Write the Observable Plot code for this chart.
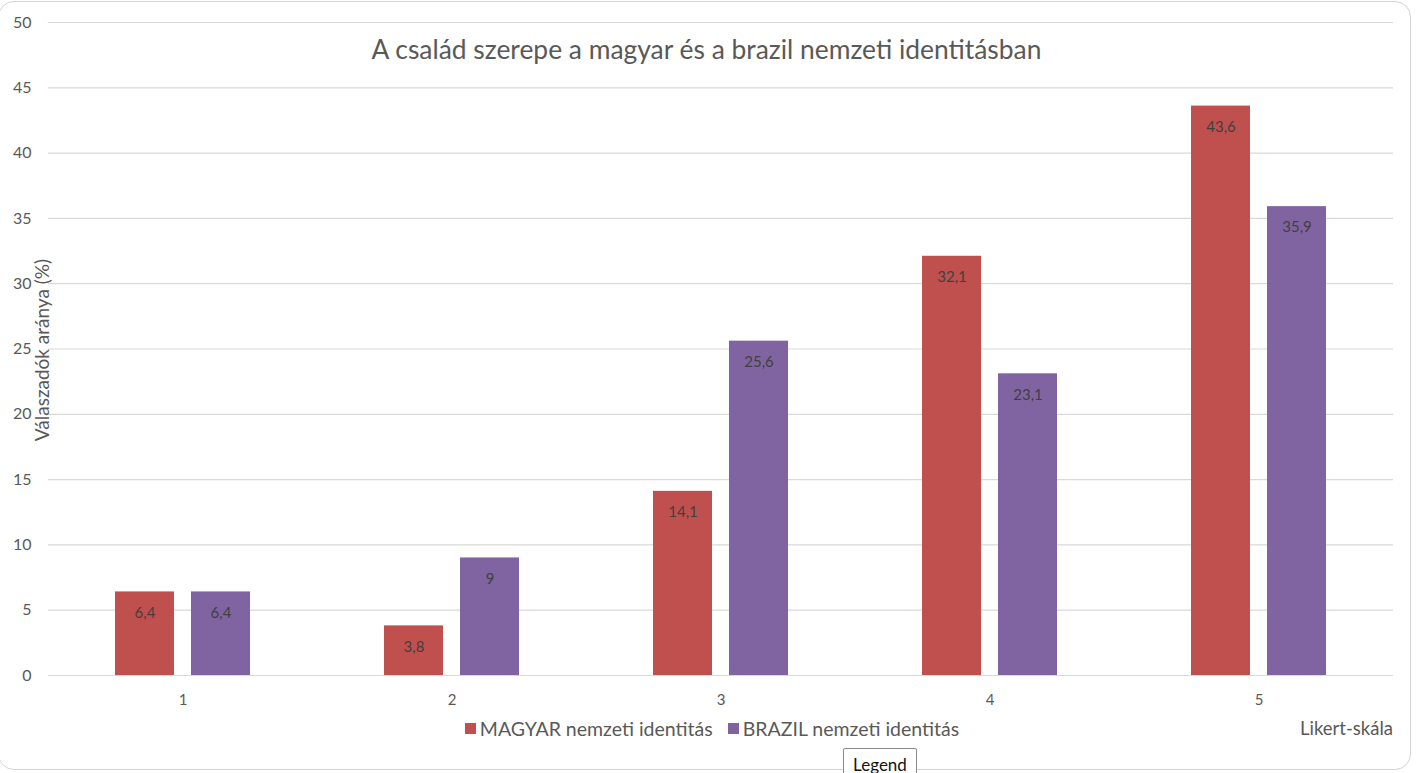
<!DOCTYPE html>
<html>
<head>
<meta charset="utf-8">
<script src="https://cdn.jsdelivr.net/npm/d3@7"></script>
<script src="https://cdn.jsdelivr.net/npm/@observablehq/plot@0.6"></script>
<style>
  html, body { margin: 0; padding: 0; background: #fff; }
  body { width: 1417px; height: 773px; overflow: hidden; font-family: Lato, "Open Sans", sans-serif; }
  #wrap { position: relative; width: 1417px; height: 773px; }
  #frame { position: absolute; left: -2px; top: 1px; width: 1411px; height: 767px; border: 1px solid #d4d4d4; border-radius: 16px; }
  #chart { position: absolute; left: 0; top: 0; }
  #title { position: absolute; top: 33px; left: 0; width: 1413px; text-align: center; font-size: 26.4px; color: #595959; }
  #ylabel { position: absolute; left: 41px; top: 350px; transform: translate(-50%, -50%) rotate(-90deg); white-space: nowrap; font-size: 19px; color: #595959; }
  #legend { position: absolute; top: 717px; left: 0; width: 1424px; display: flex; justify-content: center; gap: 15px; font-size: 19.5px; color: #595959; }
  #legend .item { display: flex; align-items: center; gap: 4px; }
  #legend .sw { width: 11px; height: 11px; display: inline-block; }
  #xlabel { position: absolute; top: 717px; right: 24px; font-size: 18.5px; color: #595959; }
  #tip { position: absolute; left: 843px; top: 748px; width: 74px; height: 30px; border: 1px solid #8a8a8a; border-radius: 2px; background: #fff; font-size: 17px; color: #111; text-align: center; line-height: 32px; box-sizing: border-box; }
</style>
</head>
<body>
<div id="wrap">
  <div id="frame"></div>
  <div id="chart"></div>
  <div id="title"></div>
  <div id="ylabel"></div>
  <div id="legend"></div>
  <div id="xlabel"></div>
  <div id="tip">Legend</div>
</div>
<script>
// ---- data ----
const titleText = "A család szerepe a magyar és a brazil nemzeti identitásban";
const yLabel = "Válaszadók aránya (%)";
const xLabel = "Likert-skála";
const categories = ["1", "2", "3", "4", "5"];
const seriesNames = ["MAGYAR nemzeti identitás", "BRAZIL nemzeti identitás"];
const seriesColors = ["#C0504D", "#8064A2"];
const magyarValues = [6.4, 3.8, 14.1, 32.1, 43.6];
const brazilValues = [6.4, 9, 25.6, 23.1, 35.9];
const yTicks = [0, 5, 10, 15, 20, 25, 30, 35, 40, 45, 50];

const data = [];
categories.forEach((c, i) => {
  data.push({cat: c, series: seriesNames[0], value: magyarValues[i]});
  data.push({cat: c, series: seriesNames[1], value: brazilValues[i]});
});
const fmt = v => String(v).replace(".", ",");

const plot = Plot.plot({
  width: 1417,
  height: 720,
  marginLeft: 47,
  marginRight: 24,
  marginTop: 22,
  marginBottom: 45,
  style: {fontFamily: "Lato, 'Open Sans', sans-serif", fontSize: "15px", color: "#595959", background: "transparent"},
  fx: {domain: categories, padding: 0, label: null},
  x: {domain: seriesNames, paddingInner: 0.22, paddingOuter: 0.86, axis: null},
  y: {domain: [0, 50], ticks: yTicks, label: null},
  color: {domain: seriesNames, range: seriesColors},
  marks: [
    Plot.gridY(yTicks, {stroke: "#d9d9d9", strokeOpacity: 1, strokeWidth: 1.2}),
    Plot.axisY(yTicks, {tickSize: 0, tickPadding: 17, label: null, fontSize: 16, fill: "#595959"}),
    Plot.axisFx({anchor: "bottom", tickSize: 0, tickPadding: 19, label: null, fontSize: 15, fill: "#595959"}),
    Plot.barY(data, {fx: "cat", x: "series", y: "value", fill: "series"}),
    Plot.text(data, {fx: "cat", x: "series", y: "value", text: d => fmt(d.value), dy: 21, fill: "#404040", fontSize: 15})
  ]
});
document.getElementById("chart").appendChild(plot);

document.getElementById("title").textContent = titleText;
document.getElementById("ylabel").textContent = yLabel;
document.getElementById("xlabel").textContent = xLabel;
const leg = document.getElementById("legend");
seriesNames.forEach((n, i) => {
  const it = document.createElement("div");
  it.className = "item";
  const sw = document.createElement("span");
  sw.className = "sw";
  sw.style.background = seriesColors[i];
  const t = document.createElement("span");
  t.textContent = n;
  it.appendChild(sw); it.appendChild(t);
  leg.appendChild(it);
});
</script>
</body>
</html>
